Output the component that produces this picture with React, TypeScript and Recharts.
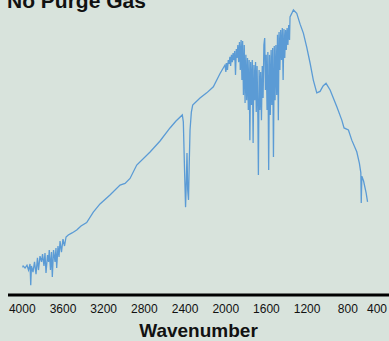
import React from 'react';
import { LineChart, Line, XAxis, YAxis, Label } from 'recharts';

const BG = '#d8e3dc';
const LINE_COLOR = '#5b9bd5';
const FONT = '"Liberation Sans", Arial, Helvetica, sans-serif';

// x axis ticks (cm-1), drawn right to left
const TICKS = [4000, 3600, 3200, 2800, 2400, 2000, 1600, 1200, 800, 400];

// spectrum: wavenumber (cm-1) and transmittance (%)
const wavenumbers = [
  4049, 4032, 4013, 3993, 3973, 3954, 3939, 3924, 3917, 3910, 3895, 3880, 3865, 3851, 3841, 3826,
  3811, 3801, 3787, 3777, 3767, 3752, 3742, 3735, 3723, 3713, 3705, 3693, 3678, 3669, 3662, 3649,
  3639, 3629, 3615, 3600, 3585, 3570, 3548, 3511, 3465, 3423, 3367, 3302, 3236, 3138, 3039, 2990,
  2941, 2875, 2744, 2646, 2548, 2489, 2427, 2417, 2405, 2395, 2387, 2381, 2374, 2366, 2358, 2351,
  2338, 2325, 2253, 2187, 2122, 2056, 2007,
  1999, 1991, 1983, 1975, 1967, 1959, 1952, 1944, 1936, 1928, 1920, 1912, 1904, 1896, 1889, 1881,
  1873, 1865, 1857, 1849, 1841, 1834, 1826, 1818, 1810, 1802, 1794, 1786, 1778, 1770, 1763, 1755,
  1747, 1739, 1731, 1723, 1715, 1707, 1700, 1692, 1684, 1679, 1672, 1665, 1657, 1649, 1641, 1633,
  1625, 1617, 1610, 1602, 1594, 1586, 1578, 1570, 1562, 1554, 1547, 1539, 1531, 1523, 1515, 1507,
  1499, 1491, 1483, 1476, 1468, 1460, 1452, 1444, 1436, 1428, 1420, 1412, 1405, 1397, 1389, 1381,
  1373,
  1368, 1351, 1335, 1302, 1269, 1237, 1204, 1171, 1139, 1105, 1073, 1043, 1014, 974, 908, 859,
  837, 794, 761, 712, 686, 672, 668, 662, 645, 620, 606,
];

const transmittance = [
  9.3, 9.7, 9.3, 10.0, 9.3, 10.3, 8.6, 10.7, 3.4, 10.0, 7.9, 11.4, 7.2, 12.8, 8.6, 13.4,
  11.4, 14.1, 10.0, 14.5, 7.6, 13.8, 11.4, 15.5, 8.6, 14.8, 6.2, 15.5, 11.4, 16.2, 9.3, 16.9,
  13.1, 18.6, 14.8, 19.3, 16.9, 20.0, 20.7, 21.4, 22.4, 23.8, 25.0, 28.6, 31.4, 34.5, 37.9, 38.5,
  40.2, 44.8, 49.3, 53.1, 57.6, 60.0, 62.1, 59.7, 43.1, 30.3, 39.7, 49.0, 36.2, 32.8, 46.6, 56.9,
  63.1, 65.5, 67.9, 69.7, 71.8, 76.4, 79.3,
  76.9, 80.0, 77.6, 81.0, 79.7, 82.1, 79.0, 82.8, 80.3, 83.4, 81.0, 84.1, 75.9, 84.8, 81.7, 86.2,
  80.3, 87.2, 77.6, 87.9, 74.1, 87.6, 69.0, 86.2, 66.2, 82.8, 67.2, 81.7, 63.8, 81.0, 53.4, 80.3,
  65.5, 81.0, 52.4, 79.3, 67.2, 80.3, 63.1, 79.0, 61.0, 41.4, 77.6, 63.8, 76.9, 60.3, 79.0, 67.9,
  86.2, 88.6, 70.7, 82.8, 63.8, 83.8, 43.1, 82.8, 62.1, 84.5, 65.5, 85.2, 47.6, 85.9, 67.2, 86.2,
  69.0, 89.7, 60.3, 90.7, 77.6, 91.4, 81.0, 92.1, 74.1, 91.7, 81.7, 91.4, 84.5, 92.1, 86.2, 93.1,
  87.9,
  95.9, 97.1, 98.3, 97.1, 93.4, 90.3, 85.5, 80.0, 74.1, 69.7, 70.2, 72.1, 73.0, 70.7, 64.9, 60.3,
  57.6, 56.9, 53.4, 49.4, 45.4, 42.1, 31.7, 41.0, 39.3, 35.2, 32.1,
];

const data = wavenumbers.map((wn, i) => ({ wn, t: transmittance[i] }));

const Tick = (props: any) => {
  const { x, y, payload } = props;
  // keep the last label inside the picture
  const cx = Math.min(x, 377);
  return (
    <text x={cx} y={y + 10} textAnchor="middle" fontSize={12} fontFamily={FONT} fill="#111">
      {payload.value}
    </text>
  );
};

const AxisTitle = (props: any) => {
  const vb = props.viewBox || {};
  return (
    <text
      x={vb.x + vb.width / 2}
      y={vb.y + 42}
      textAnchor="middle"
      fontSize={19}
      fontWeight="bold"
      fontFamily={FONT}
      fill="#111"
    >
      Wavenumber
    </text>
  );
};

export default function App() {
  return (
    <div style={{ position: 'fixed', left: 0, top: 0, width: 389, height: 341, background: BG, overflow: 'hidden' }}>
      <LineChart width={389} height={341} data={data} margin={{ top: 5, right: 0, bottom: 0, left: 8 }}>
        <XAxis
          dataKey="wn"
          type="number"
          domain={[400, 4000]}
          reversed
          allowDataOverflow
          ticks={TICKS}
          interval={0}
          padding={{ left: 14.3, right: 0.5 }}
          axisLine={{ stroke: '#000', strokeWidth: 3 }}
          tickLine={false}
          height={46}
          tick={<Tick />}
        >
          <Label content={<AxisTitle />} />
        </XAxis>
        <YAxis hide domain={[0, 100]} allowDataOverflow />
        <Line
          type="linear"
          dataKey="t"
          stroke={LINE_COLOR}
          strokeWidth={1.3}
          dot={false}
          isAnimationActive={false}
        />
      </LineChart>
      <div
        style={{
          position: 'absolute',
          left: 7,
          top: -10,
          fontFamily: FONT,
          fontWeight: 'bold',
          fontSize: 21,
          lineHeight: '21px',
          whiteSpace: 'nowrap',
          color: '#111',
        }}
      >
        No Purge Gas
      </div>
    </div>
  );
}
